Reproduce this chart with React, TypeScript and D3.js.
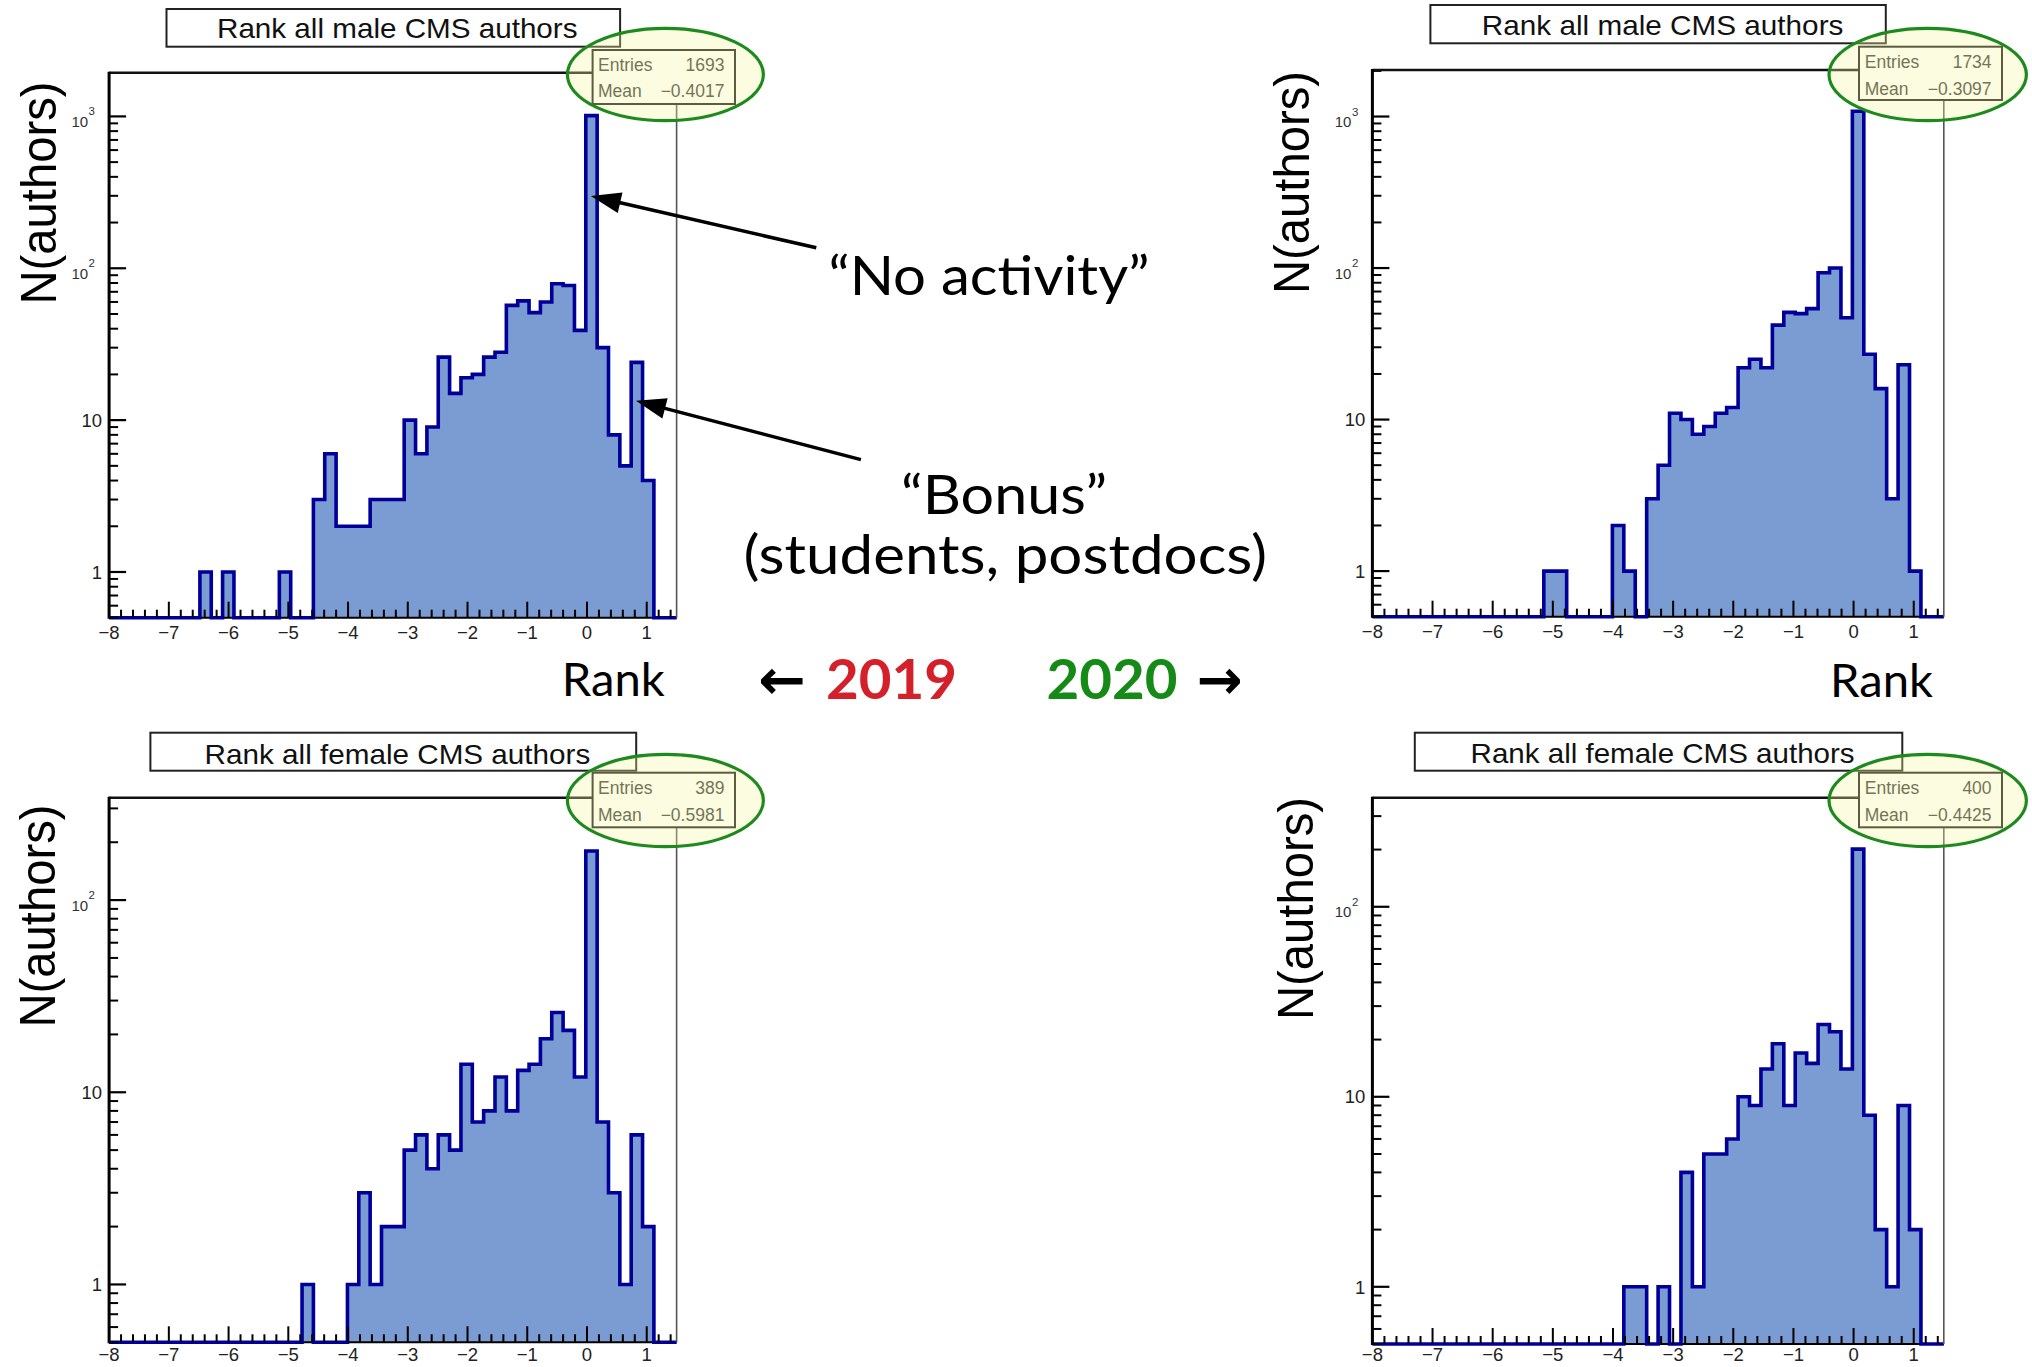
import React from 'react';
import * as d3 from 'd3';

// ---------- data ----------
const X_MIN = -8;
const X_MAX = 1.5;
const N_BINS = 50;
const Y_MIN = 0.5;

// bin contents, 50 bins of width 0.19 from -8 to 1.5
const male2019 = [
  0, 0, 0, 0, 0, 0, 0, 0, 1, 0,
  1, 0, 0, 0, 0, 1, 0, 0, 3, 6,
  2, 2, 2, 3, 3, 3, 10, 6, 9, 26,
  15, 19, 20, 26, 28, 57, 61, 51, 60, 79,
  77, 39, 1012, 30, 8, 5, 24, 4, 0, 0,
];
const male2020 = [
  0, 0, 0, 0, 0, 0, 0, 0, 0, 0,
  0, 0, 0, 0, 0, 1, 1, 0, 0, 0,
  0, 2, 1, 0, 3, 5, 11, 10, 8, 9,
  11, 12, 22, 25, 22, 42, 51, 50, 54, 93,
  100, 47, 1084, 27, 16, 3, 23, 1, 0, 0,
];
const female2019 = [
  0, 0, 0, 0, 0, 0, 0, 0, 0, 0,
  0, 0, 0, 0, 0, 0, 0, 1, 0, 0,
  0, 1, 3, 1, 2, 2, 5, 6, 4, 6,
  5, 14, 7, 8, 12, 8, 13, 14, 19, 26,
  21, 12, 180, 7, 3, 1, 6, 2, 0, 0,
];
const female2020 = [
  0, 0, 0, 0, 0, 0, 0, 0, 0, 0,
  0, 0, 0, 0, 0, 0, 0, 0, 0, 0,
  0, 0, 1, 1, 0, 1, 0, 4, 1, 5,
  5, 6, 10, 9, 14, 19, 9, 17, 15, 24,
  22, 14, 201, 8, 2, 1, 9, 2, 0, 0,
];

const titles = [
  'Rank all male CMS authors',
  'Rank all male CMS authors',
  'Rank all female CMS authors',
  'Rank all female CMS authors',
];
const entries = [1693, 1734, 389, 400];
const means = [-0.4017, -0.3097, -0.5981, -0.4425];
const yMaxes = [1940, 2028, 341, 375];
const xTickValues = [-8, -7, -6, -5, -4, -3, -2, -1, 0, 1];
const yDecades = [1, 10, 100, 1000];

// annotation tips, in data coordinates of the 2019 male panel
const noActivityTip = { x: 0.065, y: 299 };
const bonusTip = { x: 0.82, y: 13.4 };

// ---------- layout ----------
const layouts = [
  { left: 109.1, right: 676.6, top: 72.7, bottom: 617.7, titleBox: [166.5, 9, 620.1, 46.7], titleText: [217, 38.3, 360.5], stats: [592.6, 50, 735, 104], statsText: [598, 724.4, 70.7, 97.3], ellipse: [665.4, 74.5, 98, 46.2], ylab: [56, 193] },
  { left: 1372.4, right: 1943.8, top: 70, bottom: 616.7, titleBox: [1430.4, 5, 1885.8, 43.3], titleText: [1481.8, 35, 361.6], stats: [1859, 46.7, 2002, 100], statsText: [1864.8, 1991.6, 68.3, 95], ellipse: [1927.7, 74.5, 98.7, 46.2], ylab: [1309, 182.5] },
  { left: 109.1, right: 676.6, top: 797.7, bottom: 1342.3, titleBox: [150.4, 732.7, 636.2, 770.7], titleText: [204.6, 764.3, 385.7], stats: [592.6, 772.7, 735, 827.3], statsText: [598, 724.4, 794, 820.7], ellipse: [665.4, 800.5, 98, 46.2], ylab: [55, 916] },
  { left: 1372.4, right: 1943.8, top: 797.7, bottom: 1344, titleBox: [1414.8, 732.7, 1902.3, 770.7], titleText: [1470.6, 762.7, 384], stats: [1859, 772.7, 2002, 827.3], statsText: [1864.8, 1991.6, 794, 820.7], ellipse: [1927.7, 800.5, 98.7, 46.2], ylab: [1313, 908.5] },
];

const ROOT_FONT = "'Liberation Sans', Arial, Helvetica, sans-serif";
const SLIDE_FONT = "Lato, 'Open Sans', 'Noto Sans', sans-serif";
const HIST_FILL = '#7b9bd3';
const HIST_LINE = '#000099';
const GREEN = '#1d8a1d';

const fmtMinus = (v: number) => (v < 0 ? '\u2212' : '') + Math.abs(v).toString();
const fmtMean = (v: number) => (v < 0 ? '\u2212' : '') + Math.abs(v).toFixed(4);

function makeScales(i: number) {
  const L = layouts[i];
  const x = d3.scaleLinear().domain([X_MIN, X_MAX]).range([L.left, L.right]);
  const y = d3.scaleLog().domain([Y_MIN, yMaxes[i]]).range([L.bottom, L.top]);
  return { x, y };
}

function Panel({ i, counts }: { i: number; counts: number[] }) {
  const L = layouts[i];
  const { x, y } = makeScales(i);
  const yMax = yMaxes[i];
  const edges = d3.range(N_BINS + 1).map((k) => X_MIN + (k * (X_MAX - X_MIN)) / N_BINS);
  const yb = L.bottom;
  const val = (c: number) => (c > 0 ? y(c) : yb);
  const pts: [number, number][] = [[x(edges[0]), yb]];
  counts.forEach((c, k) => {
    pts.push([x(edges[k]), val(c)]);
    pts.push([x(edges[k + 1]), val(c)]);
  });
  pts.push([x(edges[N_BINS]), yb]);
  const line = d3.line();
  const outline = line(pts) || '';

  const minorX = d3
    .range(0, 48)
    .map((k) => X_MIN + k * 0.2)
    .filter((v) => Math.abs(v - Math.round(v)) > 1e-6);

  const majorsY = yDecades.filter((v) => v <= yMax);
  const minorsY: number[] = [];
  [-1, 0, 1, 2, 3].forEach((e) => {
    for (let m = 2; m <= 9; m++) {
      const v = m * Math.pow(10, e);
      if (v >= Y_MIN && v <= yMax) minorsY.push(v);
    }
  });

  const [tbx0, tby0, tbx1, tby1] = L.titleBox;
  const [ttx, tty, ttw] = L.titleText;
  const [sx0, sy0, sx1, sy1] = L.stats;
  const [stl, str, sb1, sb2] = L.statsText;
  const xLabY = Math.min(yb + 21, 1361);

  return (
    <g>
      {/* title box */}
      <rect x={tbx0} y={tby0} width={tbx1 - tbx0} height={tby1 - tby0} fill="#fff" stroke="#222" strokeWidth={2} />
      <text x={ttx} y={tty} fontFamily={ROOT_FONT} fontSize={28.5} fill="#111" textLength={ttw} lengthAdjust="spacingAndGlyphs">
        {titles[i]}
      </text>

      {/* histogram */}
      <path d={outline + 'Z'} fill={HIST_FILL} stroke="none" />
      <line x1={L.left} x2={L.right} y1={yb} y2={yb} stroke="#000" strokeWidth={2} />
      <path d={outline} fill="none" stroke={HIST_LINE} strokeWidth={3.6} strokeLinejoin="miter" />

      {/* x ticks */}
      {xTickValues.map((v) => (
        <line key={'xM' + v} x1={x(v)} x2={x(v)} y1={yb} y2={yb - 16} stroke="#000" strokeWidth={2} />
      ))}
      {minorX.map((v, k) => (
        <line key={'xm' + k} x1={x(v)} x2={x(v)} y1={yb} y2={yb - 8} stroke="#000" strokeWidth={2} />
      ))}
      {xTickValues.map((v) => (
        <text key={'xl' + v} x={x(v)} y={xLabY} textAnchor="middle" fontFamily={ROOT_FONT} fontSize={18.5} fill="#222">
          {fmtMinus(v)}
        </text>
      ))}

      {/* y ticks */}
      {majorsY.map((v) => (
        <line key={'yM' + v} x1={L.left} x2={L.left + 17} y1={y(v)} y2={y(v)} stroke="#000" strokeWidth={2.2} />
      ))}
      {minorsY.map((v, k) => (
        <line key={'ym' + k} x1={L.left} x2={L.left + 9} y1={y(v)} y2={y(v)} stroke="#000" strokeWidth={2} />
      ))}
      {majorsY.map((v) => {
        const e = Math.round(Math.log10(v));
        if (e <= 1) {
          return (
            <text key={'yl' + v} x={L.left - 7} y={y(v) + 6.7} textAnchor="end" fontFamily={ROOT_FONT} fontSize={18.5} fill="#222">
              {String(v)}
            </text>
          );
        }
        return (
          <g key={'yl' + v}>
            <text x={L.left - 21} y={y(v) + 10.5} textAnchor="end" fontFamily={ROOT_FONT} fontSize={15} fill="#333">
              10
            </text>
            <text x={L.left - 20.5} y={y(v) - 1} fontFamily={ROOT_FONT} fontSize={11.5} fill="#333">
              {String(e)}
            </text>
          </g>
        );
      })}

      {/* frame */}
      <line x1={L.left} x2={L.right} y1={L.top} y2={L.top} stroke="#111" strokeWidth={2.5} />
      <line x1={L.right} x2={L.right} y1={L.top} y2={L.bottom} stroke="#555" strokeWidth={1.6} />
      <line x1={L.left} x2={L.left} y1={L.top - 1} y2={L.bottom + 1} stroke="#000" strokeWidth={3} />

      {/* stats box */}
      <rect x={sx0} y={sy0} width={sx1 - sx0} height={sy1 - sy0} fill="#fff" stroke="#111" strokeWidth={2} />
      <text x={stl} y={sb1} fontFamily={ROOT_FONT} fontSize={17.5} fill="#333">Entries</text>
      <text x={str} y={sb1} textAnchor="end" fontFamily={ROOT_FONT} fontSize={17.5} fill="#333">{String(entries[i])}</text>
      <text x={stl} y={sb2} fontFamily={ROOT_FONT} fontSize={17.5} fill="#333">Mean</text>
      <text x={str} y={sb2} textAnchor="end" fontFamily={ROOT_FONT} fontSize={17.5} fill="#333">{fmtMean(means[i])}</text>

      {/* y axis title */}
      <text
        transform={`translate(${L.ylab[0]},${L.ylab[1]}) rotate(-90)`}
        textAnchor="middle"
        fontFamily={ROOT_FONT}
        fontSize={50}
        fill="#000"
        textLength={223}
        lengthAdjust="spacingAndGlyphs"
      >
        N(authors)
      </text>
    </g>
  );
}

function Highlight({ i }: { i: number }) {
  const [cx, cy, rx, ry] = layouts[i].ellipse;
  return <ellipse cx={cx} cy={cy} rx={rx} ry={ry} fill="rgba(246,246,160,0.33)" stroke={GREEN} strokeWidth={3.2} />;
}

function Arrow({ x1, y1, x2, y2 }: { x1: number; y1: number; x2: number; y2: number }) {
  const dx = x2 - x1;
  const dy = y2 - y1;
  const len = Math.hypot(dx, dy);
  const ux = dx / len;
  const uy = dy / len;
  const headL = 30;
  const headW = 10.5;
  const bx = x2 - ux * headL;
  const by = y2 - uy * headL;
  const px = -uy;
  const py = ux;
  const pts = [
    [x2, y2],
    [bx + px * headW, by + py * headW],
    [bx - px * headW, by - py * headW],
  ];
  return (
    <g>
      <line x1={x1} y1={y1} x2={bx + ux * 2} y2={by + uy * 2} stroke="#000" strokeWidth={3.5} />
      <polygon points={pts.map((p) => p.join(',')).join(' ')} fill="#000" />
    </g>
  );
}

export default function App() {
  const { x: x0, y: y0 } = makeScales(0);
  const all = [male2019, male2020, female2019, female2020];
  return (
    <svg
      width={2032}
      height={1367}
      viewBox="0 0 2032 1367"
      style={{ position: 'absolute', left: 0, top: 0, background: '#fff' }}
    >
      <rect x={0} y={0} width={2032} height={1367} fill="#fff" />
      {all.map((c, i) => (
        <Panel key={i} i={i} counts={c} />
      ))}
      {all.map((_, i) => (
        <Highlight key={'h' + i} i={i} />
      ))}

      {/* annotations */}
      <Arrow x1={816.3} y1={247.8} x2={x0(noActivityTip.x)} y2={y0(noActivityTip.y)} />
      <Arrow x1={860.9} y1={459.6} x2={x0(bonusTip.x)} y2={y0(bonusTip.y)} />
      <text x={828.4} y={295.4} fontFamily={SLIDE_FONT} fontSize={54} fill="#000" textLength={321} lengthAdjust="spacingAndGlyphs">
        {'\u201CNo activity\u201D'}
      </text>
      <text x={901.1} y={514} fontFamily={SLIDE_FONT} fontSize={54} fill="#000" textLength={206} lengthAdjust="spacingAndGlyphs">
        {'\u201CBonus\u201D'}
      </text>
      <text x={743.6} y={573.6} fontFamily={SLIDE_FONT} fontSize={54} fill="#000" textLength={523.5} lengthAdjust="spacingAndGlyphs">
        (students, postdocs)
      </text>
      <text x={561.8} y={695.5} fontFamily={SLIDE_FONT} fontSize={46.5} fill="#000" textLength={103} lengthAdjust="spacingAndGlyphs">
        Rank
      </text>
      <text x={1830} y={696.7} fontFamily={SLIDE_FONT} fontSize={46.5} fill="#000" textLength={103} lengthAdjust="spacingAndGlyphs">
        Rank
      </text>
      <text x={758} y={699} fontFamily="'DejaVu Sans', sans-serif" fontWeight="bold" fontSize={56} fill="#000" textLength={47.6} lengthAdjust="spacingAndGlyphs">
        {'\u2190'}
      </text>
      <text x={826} y={699} fontFamily={SLIDE_FONT} fontWeight="bold" fontSize={56} fill="#d3202a" textLength={131} lengthAdjust="spacingAndGlyphs">
        2019
      </text>
      <text x={1046.5} y={699} fontFamily={SLIDE_FONT} fontWeight="bold" fontSize={56} fill="#168a16" textLength={131} lengthAdjust="spacingAndGlyphs">
        2020
      </text>
      <text x={1196.8} y={699} fontFamily="'DejaVu Sans', sans-serif" fontWeight="bold" fontSize={56} fill="#000" textLength={46} lengthAdjust="spacingAndGlyphs">
        {'\u2192'}
      </text>
    </svg>
  );
}
